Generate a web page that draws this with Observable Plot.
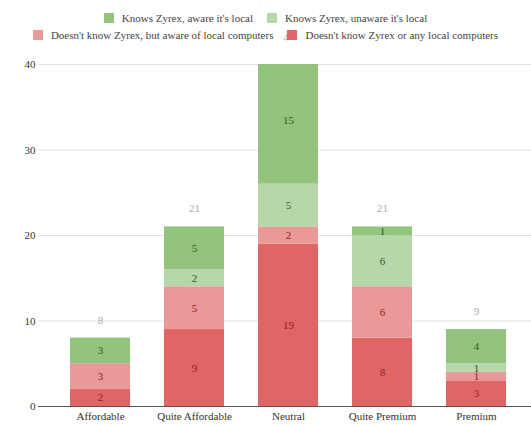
<!DOCTYPE html>
<html><head><meta charset="utf-8">
<script src="https://cdn.jsdelivr.net/npm/d3@7"></script>
<script src="https://cdn.jsdelivr.net/npm/@observablehq/plot@0.6"></script>
</head>
<body style="margin:0;font-family:'Liberation Serif';font-size:11px;background:#fff">
<div id="legend" style="position:relative;z-index:2;height:44px;color:#444"></div>
<div id="c"></div>
<script>
const categories = ["Affordable", "Quite Affordable", "Neutral", "Quite Premium", "Premium"];
const seriesNames = [
  "Doesn't know Zyrex or any local computers",
  "Doesn't know Zyrex, but aware of local computers",
  "Knows Zyrex, unaware it's local",
  "Knows Zyrex, aware it's local"
];
const seriesColors = ["#e06666", "#ea9999", "#b6d7a8", "#93c47d"];
const labelColors = ["#8b1f1f", "#8b1f1f", "#2f5a1f", "#2f5a1f"];
const noneLocal    = [2, 9, 19, 8, 3];
const awareLocal   = [3, 5, 2, 6, 1];
const unawareLocal = [0, 2, 5, 6, 1];
const awareZyrex   = [3, 5, 15, 1, 4];
const yTicks = [0, 10, 20, 30, 40];

const seriesValues = [noneLocal, awareLocal, unawareLocal, awareZyrex];
const data = [];
categories.forEach((c, i) => {
  seriesValues.forEach((vals, s) => {
    data.push({cat: c, series: seriesNames[s], s, value: vals[i]});
  });
});
const totals = categories.map((c, i) => ({cat: c, total: seriesValues.reduce((a, v) => a + v[i], 0)}));

const legendRows = [[3, 2], [1, 0]];
const legend = document.getElementById("legend");
legendRows.forEach((r, ri) => {
  const row = document.createElement("div");
  row.style.cssText = "display:flex;justify-content:center;align-items:center;height:17px;" + (ri === 0 ? "padding-top:9px;" : "");
  r.forEach(s => {
    const it = document.createElement("div");
    it.style.cssText = "display:flex;align-items:center;margin:0 7px;background:#fff;";
    const sw = document.createElement("span");
    sw.style.cssText = "width:10px;height:10px;margin-right:8px;background:" + seriesColors[s];
    const tx = document.createElement("span");
    tx.textContent = seriesNames[s];
    it.appendChild(sw);
    it.appendChild(tx);
    row.appendChild(it);
  });
  legend.appendChild(row);
});

const chart = Plot.plot({
  width: 531,
  height: 382,
  marginTop: 20,
  marginBottom: 20,
  marginLeft: 53,
  marginRight: 7,
  style: {fontFamily: "Liberation Serif", fontSize: "11px", color: "#333", overflow: "visible"},
  x: {domain: categories, paddingInner: 0.36, paddingOuter: 0.18, label: null, tickSize: 0, tickPadding: 6},
  y: {domain: [0, 40], ticks: yTicks, label: null, tickSize: 0, tickPadding: 18},
  color: {domain: seriesNames, range: seriesColors},
  marks: [
    Plot.ruleY(yTicks.filter(t => t > 0), {stroke: "#e2e2e2", insetLeft: -15, insetRight: -7}),
    Plot.barY(data, Plot.stackY({x: "cat", y: "value", fill: "series", order: seriesNames, clip: true})),
    Plot.text(data, Plot.stackY({
      filter: d => d.value > 0,
      x: "cat", y: "value", z: "series", order: seriesNames,
      text: d => String(d.value),
      fill: d => labelColors[d.s]
    })),
    Plot.text(totals, {x: "cat", y: "total", text: d => String(d.total), dy: -18, fill: "#aaa"}),
    Plot.ruleY([0], {stroke: "#555", insetLeft: -15, insetRight: -7})
  ]
});
document.getElementById("c").appendChild(chart);
</script>
</body></html>
